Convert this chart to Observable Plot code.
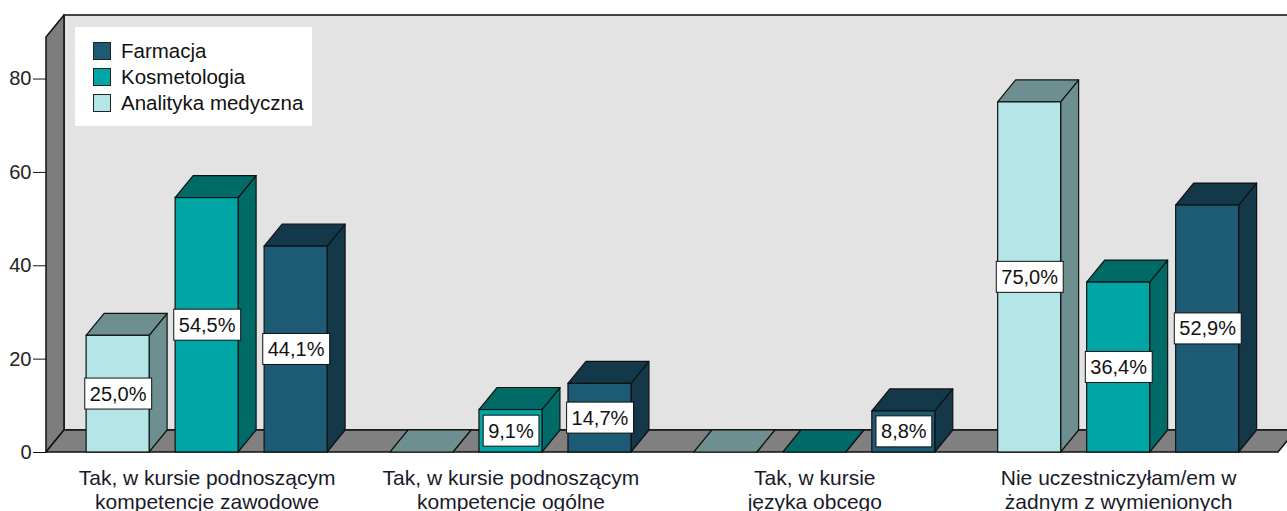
<!DOCTYPE html>
<html>
<head>
<meta charset="utf-8">
<script src="https://cdn.jsdelivr.net/npm/d3@7"></script>
<script src="https://cdn.jsdelivr.net/npm/@observablehq/plot@0.6"></script>
<style>
  html, body { margin: 0; padding: 0; background: #fff; overflow: hidden; }
  #wrap { position: relative; width: 1287px; height: 511px; font-family: "Liberation Sans", Arial, sans-serif; }
  #legend { position: absolute; left: 75px; top: 27px; width: 237px; height: 99px; background: #fff; }
  .item { position: absolute; left: 18px; height: 18px; display: flex; align-items: center; }
  .sw { width: 16px; height: 16px; border: 1px solid #222; box-sizing: content-box; }
  .lab { margin-left: 10px; font-size: 20.5px; color: #111; line-height: 18px; white-space: nowrap; }
</style>
</head>
<body>
<div id="wrap"><div id="chart"></div><div id="legend"></div></div>
<script>
// ---- data ----
const categories = [
  "Tak, w kursie podnoszącym\nkompetencje zawodowe",
  "Tak, w kursie podnoszącym\nkompetencje ogólne",
  "Tak, w kursie\njęzyka obcego",
  "Nie uczestniczyłam/em w\nżadnym z wymienionych"
];
const seriesNames = ["Analityka medyczna", "Kosmetologia", "Farmacja"]; // order within each group
const analityka = [25.0, 0, 0, 75.0];
const kosmetologia = [54.5, 9.1, 0, 36.4];
const farmacja = [44.1, 14.7, 8.8, 52.9];
const yTicks = [0, 20, 40, 60, 80];
const legendOrder = ["Farmacja", "Kosmetologia", "Analityka medyczna"];
const frontColors = {"Analityka medyczna": "#b4e6e7", "Kosmetologia": "#00a6a5", "Farmacja": "#1c5b73"};
const shadeColors = {"Analityka medyczna": "#6e8f8f", "Kosmetologia": "#006a66", "Farmacja": "#12384a"};

// ---- geometry (in data units) ----
const W = 1287, H = 511;
const XMIN = -0.5286, XMAX = 3.5557;
const YMAX = 88.9;
const STEP = 0.2929, BW = 0.2073;
const DX = 0.0592, DY = 4.713;
const FLOOR_END = 3.526;

const valuesBySeries = {"Analityka medyczna": analityka, "Kosmetologia": kosmetologia, "Farmacja": farmacja};
const bars = [];
categories.forEach((c, i) => {
  seriesNames.forEach((s, j) => {
    const v = valuesBySeries[s][i];
    const left = i + (j - 1) * STEP - BW / 2;
    bars.push({id: `${i}-${j}`, cat: i, series: s, v, left, right: left + BW,
      front: frontColors[s], shade: shadeColors[s]});
  });
});
const sides = bars.flatMap(b => [
  {id: b.id, x: b.right, y1: 0, y2: b.v, fill: b.shade},
  {id: b.id, x: b.right + DX, y1: DY, y2: b.v + DY, fill: b.shade}
]);
const tops = bars.flatMap(b => [
  {id: b.id, y: b.v, x1: b.left, x2: b.right, fill: b.shade},
  {id: b.id, y: b.v + DY, x1: b.left + DX, x2: b.right + DX, fill: b.shade}
]);
const nonzero = bars.filter(b => b.v > 0);
const fmt = v => v.toFixed(1).replace(".", ",") + "%";

const plot = Plot.plot({
  width: W, height: H,
  marginLeft: 46, marginRight: 0, marginTop: 37, marginBottom: 59,
  style: {fontFamily: "Liberation Sans, Arial, sans-serif", fontSize: "20px", background: "white", overflow: "hidden"},
  x: {domain: [XMIN, XMAX], axis: null},
  y: {domain: [0, YMAX], axis: null},
  color: {type: "identity"},
  marks: [
    // back wall
    Plot.rect([{}], {x1: XMIN + DX, x2: XMAX + 1, y1: DY, y2: YMAX + DY, fill: "#e3e3e3", stroke: "#444", strokeWidth: 2}),
    // left wall
    Plot.areaY([{x: XMIN, y1: 0, y2: YMAX}, {x: XMIN + DX, y1: DY, y2: YMAX + DY}],
      {x: "x", y1: "y1", y2: "y2", fill: "#7d7d7d", stroke: "#111", strokeWidth: 1.5}),
    // floor
    Plot.areaX([{y: 0, x1: XMIN, x2: FLOOR_END}, {y: DY, x1: XMIN + DX, x2: FLOOR_END + DX}],
      {y: "y", x1: "x1", x2: "x2", fill: "#808080", stroke: "#111", strokeWidth: 1.5}),
    // bar sides
    Plot.areaY(sides, {x: "x", y1: "y1", y2: "y2", z: "id", fill: "fill", stroke: "#111", strokeWidth: 1.2}),
    // bar tops
    Plot.areaX(tops, {y: "y", x1: "x1", x2: "x2", z: "id", fill: "fill", stroke: "#111", strokeWidth: 1.2}),
    // bar fronts
    Plot.rect(nonzero, {x1: "left", x2: "right", y1: 0, y2: "v", fill: "front", stroke: "#111", strokeWidth: 1.2}),
    // value labels
    Plot.text(nonzero, {x: d => (d.left + d.right) / 2, y: d => d.v / 2, text: d => fmt(d.v),
      fill: "#111", fontSize: 20}),
    // y axis
    Plot.axisY(yTicks, {anchor: "left", tickSize: 13, tickPadding: 2, fontSize: 20, stroke: "#111", fill: "#222", label: null, tickFormat: d => d}),
    // category labels
    Plot.text(categories, {x: (d, i) => i, y: 0, text: d => d, lineAnchor: "top", dy: 15,
      lineHeight: 1.15, fontSize: 21, fill: "#1a1a2a"})
  ]
});
document.getElementById("chart").appendChild(plot);

// white boxes behind value labels (same transform as the text)
const labelTexts = Array.from(plot.querySelectorAll("text")).filter(t => /%$/.test(t.textContent.trim()));
labelTexts.forEach(t => {
  const bb = t.getBBox();
  const r = document.createElementNS("http://www.w3.org/2000/svg", "rect");
  const padX = 5, h = 31;
  r.setAttribute("x", bb.x - padX);
  r.setAttribute("y", bb.y + bb.height / 2 - h / 2);
  r.setAttribute("width", bb.width + 2 * padX);
  r.setAttribute("height", h);
  r.setAttribute("fill", "white");
  r.setAttribute("stroke", "#111");
  r.setAttribute("stroke-width", "1");
  const tr = t.getAttribute("transform");
  if (tr) r.setAttribute("transform", tr);
  t.parentNode.insertBefore(r, t);
});

// legend
const lg = document.getElementById("legend");
legendOrder.forEach((s, k) => {
  const it = document.createElement("div");
  it.className = "item";
  it.style.top = (15 + 26 * k) + "px";
  const sw = document.createElement("div");
  sw.className = "sw";
  sw.style.background = frontColors[s];
  const lab = document.createElement("span");
  lab.className = "lab";
  lab.textContent = s;
  it.appendChild(sw); it.appendChild(lab);
  lg.appendChild(it);
});
</script>
</body>
</html>
